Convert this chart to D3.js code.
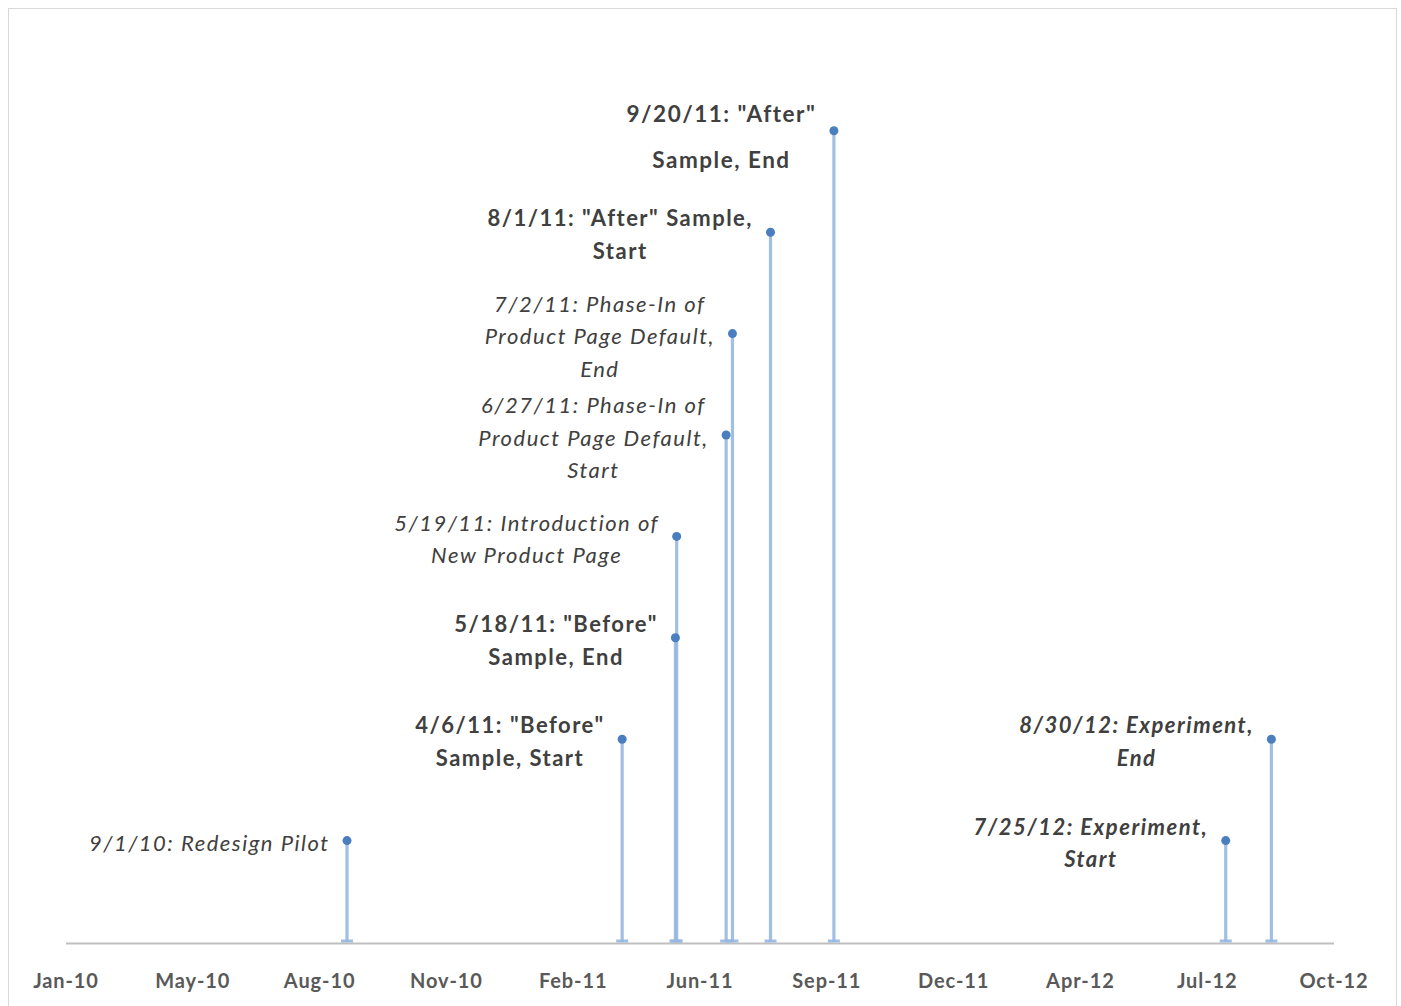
<!DOCTYPE html>
<html><head><meta charset="utf-8">
<script src="https://cdn.jsdelivr.net/npm/d3@7/dist/d3.min.js"></script>
<style>body{margin:0;background:#fff}svg{display:block}</style>
</head><body>
<svg id="chart" width="1401" height="1006"></svg>
<script>
// ---- data ----
const eventDates = ["2010-09-01","2011-04-06","2011-05-18","2011-05-19","2011-06-27","2011-07-02","2011-08-01","2011-09-20","2012-07-25","2012-08-30"];
const eventLevels = [1,2,3,4,5,6,7,8,1,2];
const eventLabels = [
  ["9/1/10: Redesign Pilot"],
  ["4/6/11: \"Before\"","Sample, Start"],
  ["5/18/11: \"Before\"","Sample, End"],
  ["5/19/11: Introduction of","New Product Page"],
  ["6/27/11: Phase-In of","Product Page Default,","Start"],
  ["7/2/11: Phase-In of","Product Page Default,","End"],
  ["8/1/11: \"After\" Sample,","Start"],
  ["9/20/11: \"After\"","Sample, End"],
  ["7/25/12: Experiment,","Start"],
  ["8/30/12: Experiment,","End"]
];
const eventKinds = ["italic","bold","bold","italic","italic","italic","bold","bold","bolditalic","bolditalic"];
const tickDates = ["2010-01-22","2010-05-02","2010-08-10","2010-11-18","2011-02-26","2011-06-06","2011-09-14","2011-12-23","2012-04-01","2012-07-10","2012-10-18"];
const tickLabels = ["Jan-10","May-10","Aug-10","Nov-10","Feb-11","Jun-11","Sep-11","Dec-11","Apr-12","Jul-12","Oct-12"];
const axisStart = "2010-01-22", axisEnd = "2012-10-18";
const levelMax = 9;

// ---- drawing ----
const parse = d3.utcParse("%Y-%m-%d");
const svg = d3.select("#chart");
const FONT = "Lato, 'Open Sans', sans-serif";

svg.append("rect").attr("x",8.5).attr("y",8.5).attr("width",1388).attr("height",1010)
  .attr("fill","#fff").attr("stroke","#d9d9d9").attr("stroke-width",1);

const x = d3.scaleUtc().domain([parse(axisStart), parse(axisEnd)]).range([65.5, 1333.5]);
const y = d3.scaleLinear().domain([0, levelMax]).range([942, 29.4]);

const events = eventDates.map((d,i)=>({date:parse(d), level:eventLevels[i], lines:eventLabels[i], kind:eventKinds[i]}));

// axis
const axis = d3.axisBottom(x).tickValues(tickDates.map(parse))
  .tickFormat((d,i)=>tickLabels[i]).tickSize(0).tickPadding(0);
const gA = svg.append("g").attr("transform",`translate(0,${y(0)+1})`).call(axis);
gA.select(".domain").attr("stroke","#bfbfbf").attr("stroke-width",2);
gA.selectAll("text").attr("font-family",FONT).attr("font-weight","bold")
  .attr("font-size",20).attr("letter-spacing",0.9).attr("fill","#595959").attr("dy",0).attr("y",45);

// stems (error-bar like)
const stems = svg.append("g");
events.forEach(e=>{
  const px = x(e.date);
  stems.append("line").attr("x1",px).attr("x2",px).attr("y1",y(e.level)).attr("y2",y(0))
    .attr("stroke","#97b7e0").attr("stroke-width",3.2).attr("stroke-opacity",0.9);
  stems.append("line").attr("x1",px-6).attr("x2",px+6).attr("y1",y(0)-1).attr("y2",y(0)-1)
    .attr("stroke","#97b7e0").attr("stroke-width",3).attr("stroke-opacity",0.9);
});
// markers
svg.append("g").selectAll("circle").data(events).join("circle")
  .attr("cx",d=>x(d.date)).attr("cy",d=>y(d.level)).attr("r",4.5).attr("fill","#4a7ebf");

// labels
const lg = svg.append("g");
events.forEach((e,i)=>{
  const px = x(e.date), py = y(e.level);
  const big = e.lines[0].startsWith("9/20/11");
  const L = big ? 46 : 32.5;
  const off = big ? 6 : 2;
  const n = e.lines.length;
  const t = lg.append("g").attr("font-family",FONT).attr("font-size", big?22.5:22).attr("fill","#404040")
    .attr("letter-spacing",1.5)
    .attr("font-weight", e.kind.includes("bold")?"bold":"normal")
    .attr("font-style", e.kind.includes("italic")?"italic":"normal");
  const texts = e.lines.map((s,k)=> t.append("text").text(s)
    .attr("y", py + off - (n-1)*L/2 + k*L).attr("dominant-baseline","central").attr("text-anchor","middle"));
  const w = d3.max(texts, tx=>tx.node().getComputedTextLength());
  const cx = px - 17.5 - w/2;
  texts.forEach(tx=>tx.attr("x",cx));
});
</script>
</body></html>
